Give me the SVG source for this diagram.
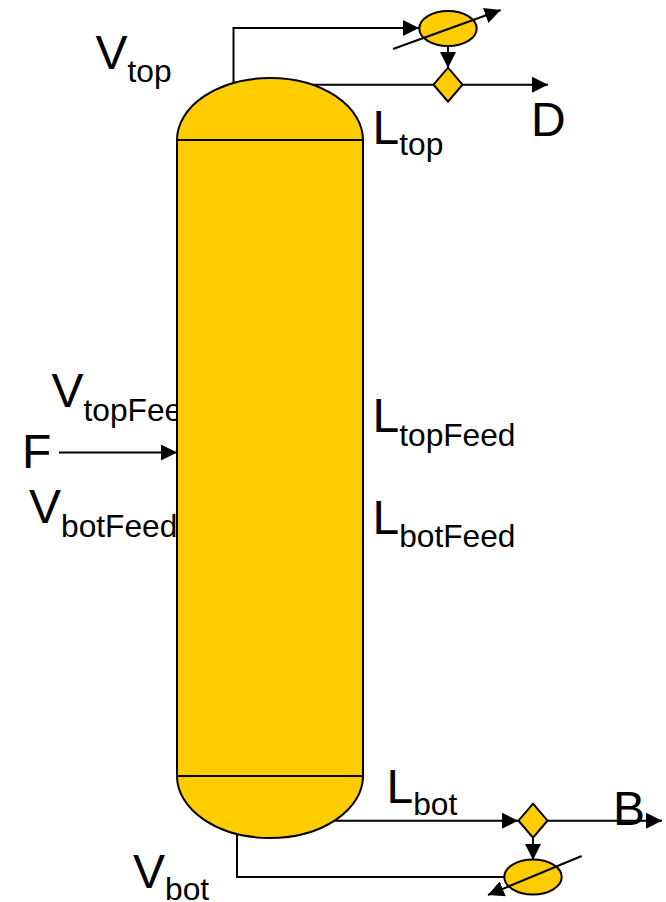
<svg xmlns="http://www.w3.org/2000/svg" width="666" height="902" viewBox="0 0 666 902">
<style>
.s{fill:#fc0;stroke:#000;stroke-width:2}
.l{fill:none;stroke:#000;stroke-width:2}
.t{font-family:"Liberation Sans",Arial,sans-serif;font-size:48px;fill:#000}
.b{font-size:31.700px}
</style>
<defs>
<marker id="a" markerUnits="userSpaceOnUse" markerWidth="17" markerHeight="16" refX="16" refY="8" orient="auto" viewBox="0 0 17 16"><path d="M0 0L16 8L0 16Z" fill="#000"/></marker>
</defs>
<rect width="666" height="902" fill="#fff"/>
<g id="labels">
<text class="t" x="95.500" y="68.500">V<tspan class="b" dy="13">top</tspan></text>
<text class="t" x="372.500" y="143.500">L<tspan class="b" dy="11.500">top</tspan></text>
<text class="t" x="531" y="136">D</text>
<text class="t" x="51.500" y="407">V<tspan class="b" dy="13.500">topFeed</tspan></text>
<text class="t" x="372.500" y="432">L<tspan class="b" dy="14">topFeed</tspan></text>
<text class="t" x="22" y="468">F</text>
<text class="t" x="29" y="523">V<tspan class="b" dy="13.500">botFeed</tspan></text>
<text class="t" x="372.500" y="533.500">L<tspan class="b" dy="13.500">botFeed</tspan></text>
<text class="t" x="386.500" y="803">L<tspan class="b" dy="11.500">bot</tspan></text>
<text class="t" x="133" y="887.500">V<tspan class="b" dy="12.500">bot</tspan></text>
<text class="t" x="613" y="824.500">B</text>
</g>
<g id="connectors">
<path class="l" d="M233.500 83V28H419" marker-end="url(#a)"/>
<path class="l" d="M310 84.700H548" marker-end="url(#a)"/>
<path class="l" d="M448 46V68" marker-end="url(#a)"/>
<path class="l" d="M59 452.500H177" marker-end="url(#a)"/>
<path class="l" d="M335 820.700H518" marker-end="url(#a)"/>
<path class="l" d="M547 820.700H662" marker-end="url(#a)"/>
<path class="l" d="M533 838V860" marker-end="url(#a)"/>
<path class="l" d="M237 833V877H505"/>
</g>
<g id="column">
<path class="s" d="M177 140A93 62 0 0 1 363 140V776A93 62 0 0 1 177 776Z"/>
<path class="l" d="M177 140H363M177 776H363"/>
</g>
<g id="condenser">
<ellipse class="s" cx="448" cy="28.500" rx="28.700" ry="17.500"/>
<path class="l" d="M393 49L500.700 10" marker-end="url(#a)"/>
</g>
<g id="top-splitter"><path class="s" d="M448 67.700L462.500 84.700L448 101.700L433.500 84.700Z"/></g>
<g id="bottom-splitter"><path class="s" d="M533 803.700L547.500 820.700L533 837.700L518.500 820.700Z"/></g>
<g id="reboiler">
<ellipse class="s" cx="533" cy="877" rx="28.700" ry="17.500"/>
<path class="l" d="M581.700 856L488 895" marker-end="url(#a)"/>
</g>
</svg>
